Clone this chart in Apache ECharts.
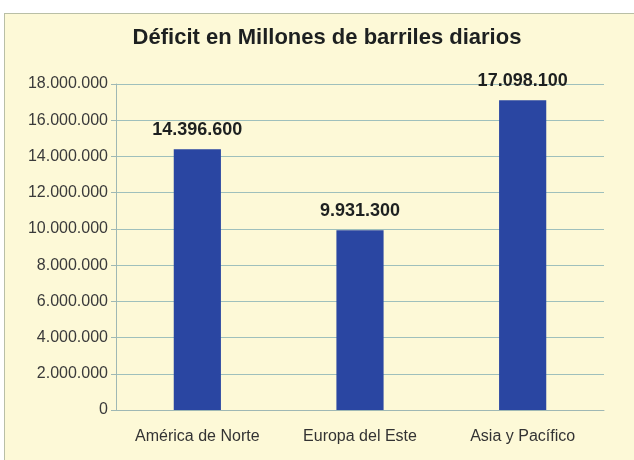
<!DOCTYPE html>
<html>
<head>
<meta charset="utf-8">
<script src="https://cdn.jsdelivr.net/npm/echarts@6/dist/echarts.min.js"></script>
<style>
html,body{margin:0;padding:0;background:#ffffff;}
#frame{position:absolute;left:4px;top:13px;width:632px;height:449px;background:#fdf9d7;border-left:1px solid #b9bfa6;border-top:1px solid #b9bfa6;box-sizing:border-box;}
#chart{position:absolute;left:0;top:0;width:634px;height:460px;}
</style>
</head>
<body>
<div id="frame"></div>
<div id="chart"></div>
<script>
const title = "Déficit en Millones de barriles diarios";
const categories = ["América de Norte", "Europa del Este", "Asia y Pacífico"];
const values = [14396600, 9931300, 17098100];
const yMin = 0, yMax = 18000000, yStep = 2000000;

function fmt(v){
  return String(Math.round(v)).replace(/\B(?=(\d{3})+(?!\d))/g, ".");
}

const chart = echarts.init(document.getElementById('chart'), null, {renderer:'canvas'});
chart.setOption({
  backgroundColor: 'transparent',
  animation: false,
  title: {
    text: title,
    left: 322, top: 22, textAlign: 'center',
    textStyle: {fontFamily: 'Liberation Sans', fontSize: 22, fontWeight: 'bold', color: '#1d2020'}
  },
  grid: {left: 116, right: 30, top: 84, bottom: 50, containLabel: false},
  xAxis: {
    type: 'category',
    data: categories,
    axisLine: {show: true, lineStyle: {color: '#9fb8b4', width: 1}},
    axisTick: {show: false},
    axisLabel: {fontFamily: 'Liberation Sans', fontSize: 16, color: '#333333', margin: 19}
  },
  yAxis: {
    type: 'value',
    min: yMin, max: yMax, interval: yStep,
    axisLine: {show: true, lineStyle: {color: '#9fb8b4', width: 1}},
    axisTick: {show: true, length: 5, lineStyle: {color: '#9fb8b4'}},
    splitLine: {show: true, lineStyle: {color: '#9fc0bc', width: 1}},
    axisLabel: {fontFamily: 'Liberation Sans', fontSize: 16, color: '#3a3a3a', margin: 8, formatter: fmt}
  },
  series: [{
    type: 'bar',
    data: values,
    barWidth: '29%',
    itemStyle: {color: '#2a46a2'},
    label: {
      show: true, position: 'top', distance: 10,
      fontFamily: 'Liberation Sans', fontSize: 18, fontWeight: 'bold', color: '#1d2020',
      formatter: p => fmt(p.value)
    }
  }]
});
</script>
</body>
</html>
